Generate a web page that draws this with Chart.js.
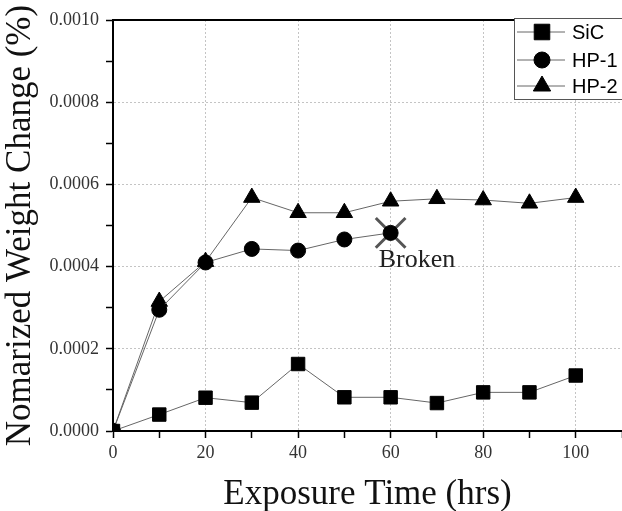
<!DOCTYPE html>
<html>
<head>
<meta charset="utf-8">
<script src="https://cdn.jsdelivr.net/npm/chart.js@4.4.0/dist/chart.umd.min.js"></script>
<style>
  html, body { margin: 0; padding: 0; background: #fff; }
  #wrap { width: 622px; height: 511px; }
</style>
</head>
<body>
<div id="wrap"><canvas id="weightChart"></canvas></div>
<script>
  const hours = [0, 10, 20, 30, 40, 50, 60, 70, 80, 90, 100];
  const sicValues = [0, 0.00004, 0.000081, 0.000069, 0.000163, 0.000082, 0.000082, 0.000068, 0.000094, 0.000094, 0.000135];
  const hp1Values = [0, 0.000295, 0.00041, 0.000443, 0.000439, 0.000466, 0.000482];
  const hp2Values = [0, 0.000315, 0.000412, 0.000568, 0.000531, 0.000531, 0.000559, 0.000565, 0.000562, 0.000554, 0.000568];
  const brokenHours = [60];
  const brokenValues = [0.000482];
  const brokenText = "Broken";

  const toPoints = (xs, ys) => ys.map((y, i) => ({ x: xs[i], y: y }));

  const serif = "'Liberation Serif', 'Times New Roman', serif";

  const series = [
    { label: "SiC", data: sicValues, pointStyle: "rect", radius: 9.5 },
    { label: "HP-1", data: hp1Values, pointStyle: "circle", radius: 7.5 },
    { label: "HP-2", data: hp2Values, pointStyle: "triangle", radius: 9.5 },
  ];

  const datasets = series.map((s) => ({
    label: s.label,
    data: toPoints(hours, s.data),
    showLine: true,
    borderColor: "#666",
    borderWidth: 1,
    backgroundColor: "#000",
    pointStyle: s.pointStyle,
    pointRadius: s.radius,
    pointBackgroundColor: "#000",
    pointBorderColor: "#000",
    pointBorderWidth: 1,
  }));

  datasets.push({
    label: brokenText,
    data: toPoints(brokenHours, brokenValues),
    showLine: false,
    pointStyle: "crossRot",
    pointRadius: 21,
    pointBorderColor: "#555",
    pointBorderWidth: 3,
  });

  // frame top line, "Broken" note and the boxed legend
  const extras = {
    id: "extras",
    afterDraw(chart) {
      const { ctx, chartArea, scales } = chart;
      ctx.save();

      ctx.strokeStyle = "#000";
      ctx.lineWidth = 2;
      ctx.beginPath();
      ctx.moveTo(chartArea.left, chartArea.top);
      ctx.lineTo(chartArea.right, chartArea.top);
      ctx.stroke();

      const bx = scales.x.getPixelForValue(brokenHours[0]);
      const by = scales.y.getPixelForValue(brokenValues[0]);
      ctx.fillStyle = "#222";
      ctx.font = "26px " + serif;
      ctx.textBaseline = "alphabetic";
      ctx.textAlign = "left";
      ctx.fillText(brokenText, bx - 12, by + 34);

      // legend
      const lx = 514, ly = 18, lw = 120, lh = 81;
      ctx.fillStyle = "#fff";
      ctx.fillRect(lx, ly, lw, lh);
      ctx.strokeStyle = "#555";
      ctx.lineWidth = 1;
      ctx.strokeRect(lx + 0.5, ly + 0.5, lw, lh);

      const rows = [32, 60, 86];
      series.forEach((s, i) => {
        const y = rows[i];
        ctx.strokeStyle = "#666";
        ctx.lineWidth = 1;
        ctx.beginPath();
        ctx.moveTo(517, y);
        ctx.lineTo(565, y);
        ctx.stroke();
        ctx.fillStyle = "#000";
        ctx.strokeStyle = "#000";
        Chart.helpers.drawPoint(ctx, {
          pointStyle: s.pointStyle,
          radius: s.pointStyle === "rect" ? 11 : s.radius + 0.5,
          rotation: 0,
          borderWidth: 1,
        }, 542, y);
        ctx.fillStyle = "#000";
        ctx.font = "20px 'Liberation Sans', Arial, sans-serif";
        ctx.textBaseline = "middle";
        ctx.fillText(s.label, 572, y + 1);
      });

      ctx.restore();
    },
  };

  const isMajor = (v, step) => Math.round(v / step) % 2 === 0;

  const config = {
    type: "scatter",
    data: { datasets },
    options: {
      responsive: true,
      maintainAspectRatio: false,
      animation: false,
      layout: { autoPadding: false, padding: { top: 20, right: 0, left: 0, bottom: 0 } },
      plugins: {
        legend: { display: false },
        tooltip: { enabled: false },
      },
      scales: {
        x: {
          type: "linear",
          min: 0,
          max: 110,
          afterFit: (scale) => {
            scale.height = 80;
            scale.paddingLeft = 0;
            scale.paddingRight = 0;
          },
          ticks: {
            stepSize: 10,
            padding: 4,
            color: "#333",
            font: { family: serif, size: 18 },
            maxRotation: 0,
            callback: (v) => (isMajor(v, 10) && v <= 100 ? String(v) : ""),
          },
          grid: {
            color: (c) => (c.tick && isMajor(c.tick.value, 10) && c.tick.value > 0 ? "#c4c4c4" : "rgba(0,0,0,0)"),
            lineWidth: 1,
            tickColor: "#000",
            tickLength: 7,
            tickWidth: 1.5,
          },
          border: { color: "#000", width: 2, dash: [2, 2] },
          title: {
            display: true,
            text: "Exposure Time (hrs)",
            color: "#111",
            font: { family: serif, size: 35, lineHeight: 0.9 },
            padding: { top: 14, bottom: 0 },
          },
        },
        y: {
          min: 0,
          max: 0.001,
          afterFit: (scale) => { scale.width = 113; },
          ticks: {
            stepSize: 0.0001,
            padding: 7,
            color: "#333",
            font: { family: serif, size: 18 },
            callback: (v) => (isMajor(v, 0.0001) ? v.toFixed(4) : ""),
          },
          grid: {
            color: (c) => (c.tick && isMajor(c.tick.value, 0.0001) && c.tick.value > 0 ? "#c4c4c4" : "rgba(0,0,0,0)"),
            lineWidth: 1,
            tickColor: "#000",
            tickLength: 7,
            tickWidth: 1.5,
          },
          border: { color: "#000", width: 2, dash: [2, 2] },
          title: {
            display: true,
            text: "Nomarized Weight Change (%)",
            color: "#111",
            font: { family: serif, size: 35 },
            padding: { top: 0, bottom: 0 },
          },
        },
      },
    },
    plugins: [extras],
  };

  new Chart(document.getElementById("weightChart"), config);
</script>
</body>
</html>
